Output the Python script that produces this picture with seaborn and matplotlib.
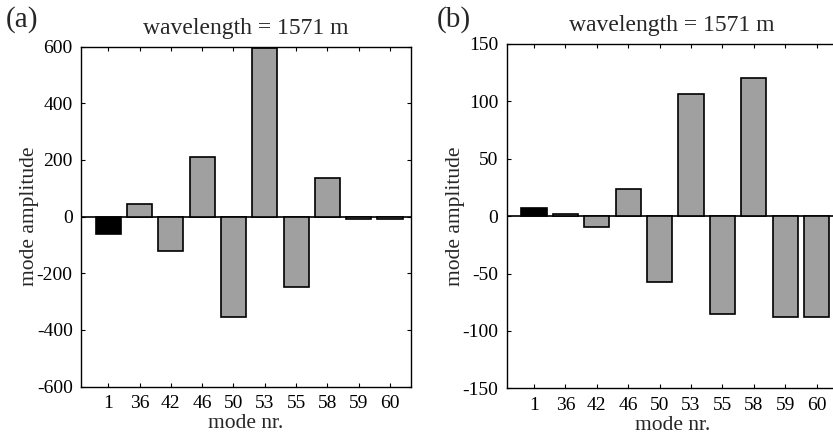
import matplotlib
matplotlib.use("Agg")
import matplotlib.pyplot as plt
import seaborn as sns
import pandas as pd

modes = ["1", "36", "42", "46", "50", "53", "55", "58", "59", "60"]
amp_a = [-61, 45, -123, 212, -353, 595, -247, 137, -10, -10]
amp_b = [6.7, 1.5, -9.8, 23.7, -57.6, 106, -85, 120.5, -87.5, -87.5]
title = "wavelength = 1571 m"
ylims = [(-600, 600), (-150, 150)]
yticks = [[-600, -400, -200, 0, 200, 400, 600], [-150, -100, -50, 0, 50, 100, 150]]
panel_labels = ["(a)", "(b)"]

sns.set_theme(style="ticks")
plt.rcParams['font.family'] = ['Liberation Serif', 'DejaVu Serif']

fig = plt.figure(figsize=(8.33, 4.36), dpi=100)
ax_a = fig.add_axes([81/833, 1 - 386.5/436, 330/833, (386.5 - 46.7)/436])
ax_b = fig.add_axes([506.7/833, 1 - 388.3/436, 331/833, (388.3 - 44)/436])

colors = ["black"] + ["#a0a0a0"] * 9

for ax, vals, yl, yt, pl in zip([ax_a, ax_b], [amp_a, amp_b], ylims, yticks, panel_labels):
    df = pd.DataFrame({"mode": modes, "amp": vals})
    sns.barplot(data=df, x="mode", y="amp", hue="mode", palette=colors, legend=False,
                width=0.8, edgecolor="black", linewidth=1.2, ax=ax, saturation=1)
    ax.axhline(0, color="black", linewidth=1.2, zorder=0.5)
    ax.set_ylim(*yl)
    ax.set_yticks(yt)
    ax.set_yticklabels([str(v) for v in yt])
    ax.set_xlim(-0.87, 9.67)
    ax.tick_params(direction="in", top=True, right=True, length=3, width=0.8,
                   labelsize=14, pad=6, colors="black")
    for s in ax.spines.values():
        s.set_visible(True)
        s.set_linewidth(1.0)
        s.set_color("black")
    ax.set_xlabel("mode nr.", fontsize=15.5, labelpad=1.5)
    ax.set_ylabel("mode amplitude", fontsize=15.5, labelpad=-2)
    ax.set_title(title, fontsize=17, pad=9)

fig.text(6/833, 1 - 27/436, "(a)", fontsize=21)
fig.text(437/833, 1 - 27/436, "(b)", fontsize=21)

fig.savefig("out.png", dpi=100)
